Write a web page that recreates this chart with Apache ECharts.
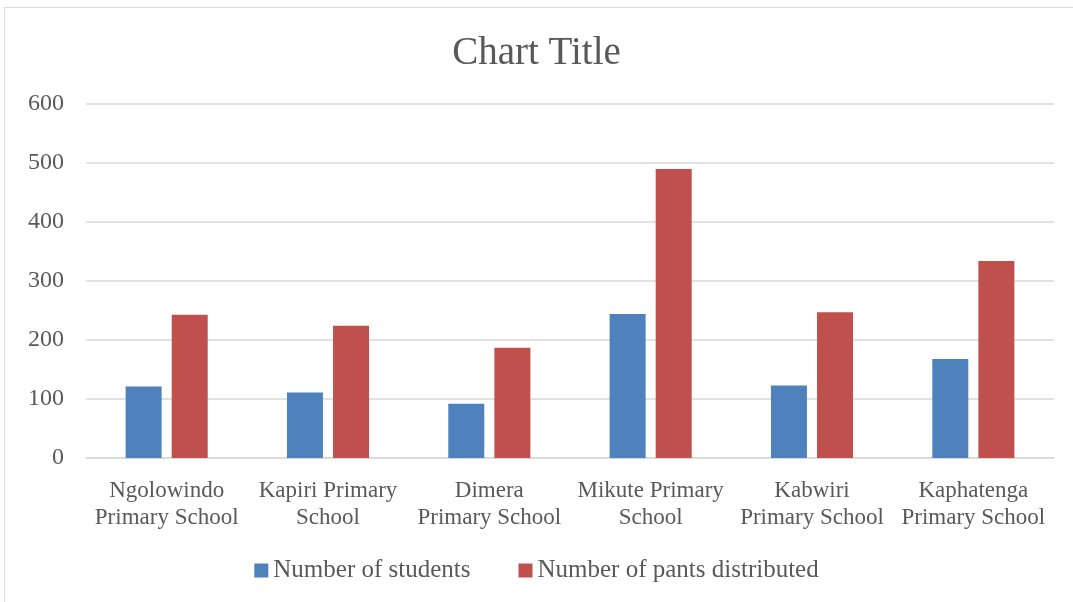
<!DOCTYPE html>
<html>
<head>
<meta charset="utf-8">
<script src="https://cdn.jsdelivr.net/npm/echarts@6/dist/echarts.min.js"></script>
<style>
  html, body { margin: 0; padding: 0; background: #fff; }
  #frame { position: absolute; left: 4px; top: 7px; width: 1075px; height: 600px; border: 1px solid #d9d9d9; box-sizing: border-box; }
  #main { position: absolute; left: 0; top: 0; width: 1073px; height: 602px; }
</style>
</head>
<body>
<div id="frame"></div>
<div id="main"></div>
<script>
const schools = [
  'Ngolowindo\nPrimary School',
  'Kapiri Primary\nSchool',
  'Dimera\nPrimary School',
  'Mikute Primary\nSchool',
  'Kabwiri\nPrimary School',
  'Kaphatenga\nPrimary School'
];
const students = [121, 111, 92, 244, 123, 168];
const pants = [243, 224, 187, 490, 247, 334];
const yTicks = [0, 600, 100];

const font = '"Liberation Serif", "DejaVu Serif", serif';
const chart = echarts.init(document.getElementById('main'));

chart.setOption({
  animation: false,
  title: {
    text: 'Chart Title',
    left: 'center',
    top: 29,
    textStyle: { fontFamily: font, fontSize: 39, fontWeight: 'normal', color: '#595959' }
  },
  legend: {
    bottom: 14,
    left: 'center',
    itemWidth: 14,
    itemHeight: 14,
    itemGap: 48,
    icon: 'rect',
    textStyle: { fontFamily: font, fontSize: 25, color: '#595959' },
    data: ['Number of students', 'Number of pants distributed']
  },
  grid: { left: 86, right: 19, top: 104, bottom: 144 },
  xAxis: {
    type: 'category',
    data: schools,
    axisLine: { lineStyle: { color: '#d9d9d9', width: 1.5 } },
    axisTick: { show: false },
    axisLabel: {
      interval: 0,
      margin: 19,
      fontFamily: font,
      fontSize: 23,
      lineHeight: 27,
      color: '#595959'
    }
  },
  yAxis: {
    type: 'value',
    min: yTicks[0],
    max: yTicks[1],
    interval: yTicks[2],
    axisLine: { show: false },
    axisTick: { show: false },
    splitLine: { lineStyle: { color: '#d9d9d9', width: 1.5 } },
    axisLabel: { margin: 22, fontFamily: font, fontSize: 24, color: '#595959' }
  },
  series: [
    {
      name: 'Number of students',
      type: 'bar',
      data: students,
      barWidth: 36,
      barGap: '28%',
      itemStyle: { color: '#4f81bd' }
    },
    {
      name: 'Number of pants distributed',
      type: 'bar',
      data: pants,
      barWidth: 36,
      itemStyle: { color: '#c0504d' }
    }
  ]
});
</script>
</body>
</html>
